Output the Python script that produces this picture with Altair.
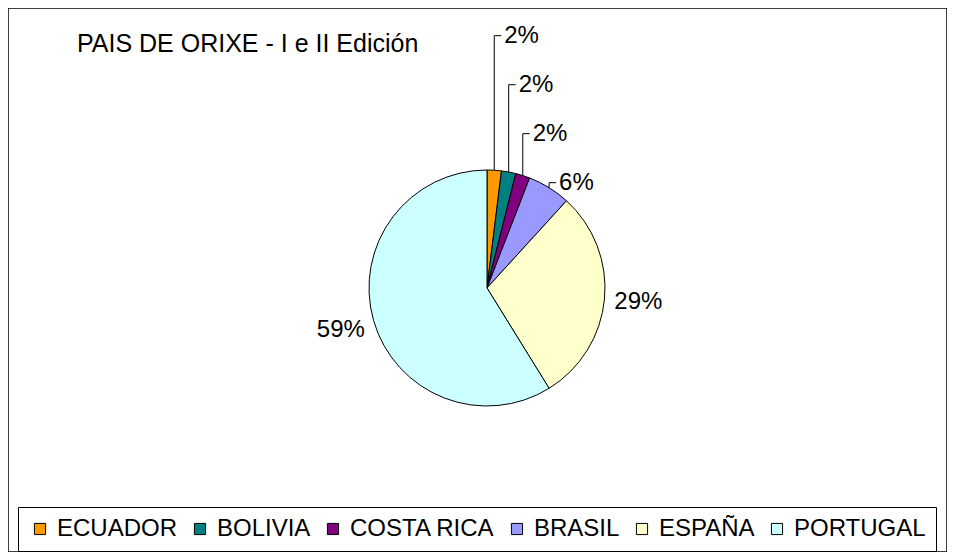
import math
import altair as alt
import pandas as pd

# ---- data ----
countries = ["ECUADOR", "BOLIVIA", "COSTA RICA", "BRASIL", "ESPAÑA", "PORTUGAL"]
values = [1, 1, 1, 3, 15, 30]
colors = ["#FF9900", "#008080", "#800080", "#9999FF", "#FFFFCC", "#CCFFFF"]
title_text = "PAIS DE ORIXE - I e II Edición"

# ---- layout constants (pixels, view coordinates) ----
W, H = 939, 544
CX, CY, R = 479, 280, 118
LABEL_R = 152
SMALL_PCT = 10
FONT = "Liberation Sans"

total = sum(values)
rows = []
cum = 0
for i, (c, v) in enumerate(zip(countries, values)):
    mid = (cum + v / 2) / total * 2 * math.pi
    cum += v
    pct = round(v / total * 100)
    rows.append(dict(idx=i, country=c, value=v, pct=pct, mid=mid,
                     label=f"{pct}%",
                     big_label=f"{pct}%" if pct >= SMALL_PCT else ""))
df = pd.DataFrame(rows)

# leader lines and stacked labels for the small slices (derived from data)
small = [r for r in rows if r["pct"] < SMALL_PCT]
prev = float("inf")
leader_pts, small_lbl = [], []
for r in reversed(small):
    ex = CX + R * math.sin(r["mid"])
    ey = CY - R * math.cos(r["mid"])
    ly = min(ey - 5, prev - 49)
    prev = ly
    for k, (px, py) in enumerate([(ex, ey), (ex, ly), (ex + 7, ly)]):
        leader_pts.append(dict(country=r["country"], k=k, px=px, py=py))
    small_lbl.append(dict(country=r["country"], label=r["label"], px=ex + 10, py=ly))
lead_df = pd.DataFrame(leader_pts)
small_df = pd.DataFrame(small_lbl)

arc = alt.Chart(df).mark_arc(outerRadius=R, stroke="black", strokeWidth=1).encode(
    theta=alt.Theta("value:Q", stack=True),
    order=alt.Order("idx:Q"),
    color=alt.Color(
        "country:N",
        sort=countries,
        scale=alt.Scale(domain=countries, range=colors),
        legend=alt.Legend(
            title=None, orient="none", legendX=10, legendY=499,
            direction="horizontal", columns=6,
            symbolType="square", symbolSize=125,
            symbolStrokeColor="black", symbolStrokeWidth=1,
            labelFont=FONT, labelFontSize=24, labelColor="black",
            labelOffset=5, columnPadding=10, padding=10,
            strokeColor="black", fillColor="white", labelLimit=300,
        ),
    ),
    x=alt.value(CX),
    y=alt.value(CY),
)

big_text = alt.Chart(df).mark_text(
    radius=LABEL_R, font=FONT, fontSize=24, color="black",
    align="center", baseline="middle",
).encode(
    theta=alt.Theta("value:Q", stack=True),
    order=alt.Order("idx:Q"),
    text=alt.Text("big_label:N"),
    x=alt.value(CX),
    y=alt.value(CY),
)

leaders = alt.Chart(lead_df).mark_line(color="black", strokeWidth=1).encode(
    x=alt.X("px:Q", scale=None, axis=None),
    y=alt.Y("py:Q", scale=None, axis=None),
    detail="country:N",
    order="k:Q",
)

small_text = alt.Chart(small_df).mark_text(
    font=FONT, fontSize=24, color="black", align="left", baseline="middle",
).encode(
    x=alt.X("px:Q", scale=None, axis=None),
    y=alt.Y("py:Q", scale=None, axis=None),
    text="label:N",
)

title = alt.Chart(pd.DataFrame({"t": [title_text]})).mark_text(
    font=FONT, fontSize=25, color="black", align="left", baseline="alphabetic",
).encode(
    x=alt.value(69),
    y=alt.value(44),
    text="t:N",
)

chart = alt.layer(arc, big_text, leaders, small_text, title).properties(
    width=W, height=H, padding=0, background="white"
).configure_view(stroke="black", strokeWidth=1.5)

chart.save("out.html", embed_options={"renderer": "svg", "actions": False})
